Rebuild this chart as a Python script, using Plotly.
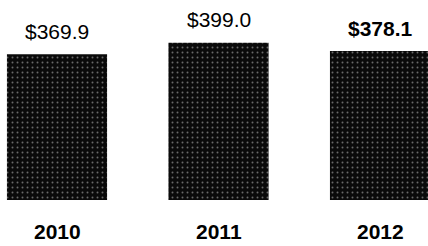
import plotly.graph_objects as go

years = ["2010", "2011", "2012"]
values = [369.9, 399.0, 378.1]
value_labels = ["$369.9", "$399.0", "$378.1"]
label_bold = [False, False, True]

xpos = list(range(len(years)))

fig = go.Figure()
fig.add_trace(go.Bar(
    x=xpos, y=values, width=0.62,
    marker=dict(
        color="#0a0a0a",
        line=dict(width=0),
        pattern=dict(shape=".", fgcolor="#6a6a6a", bgcolor="#0a0a0a",
                     size=5, solidity=0.12, fillmode="replace"),
    ),
    hoverinfo="skip",
))

for xi, v, lab, b in zip(xpos, values, value_labels, label_bold):
    fig.add_annotation(
        x=xi, y=v, xref="x", yref="y",
        text=f"<b>{lab}</b>" if b else lab,
        showarrow=False, yanchor="middle", yshift=23,
        font=dict(family="Liberation Sans, Arial", size=21, color="#000"),
    )

for xi, yr in zip(xpos, years):
    fig.add_annotation(
        x=xi, y=0, xref="x", yref="y",
        text=f"<b>{yr}</b>",
        showarrow=False, yanchor="middle", yshift=-32,
        font=dict(family="Liberation Sans, Arial", size=21, color="#000"),
    )

fig.update_layout(
    width=428, height=246,
    margin=dict(l=0, r=0, t=0, b=0),
    paper_bgcolor="white", plot_bgcolor="white",
    showlegend=False,
    xaxis=dict(range=[-0.353, 2.297], visible=False, fixedrange=True),
    yaxis=dict(range=[-116.8, 507.6], visible=False, fixedrange=True),
)

fig.write_html(
    "out.html",
    config={"displayModeBar": False},
    post_script="document.body.style.margin='0';document.body.style.overflow='hidden';",
)
